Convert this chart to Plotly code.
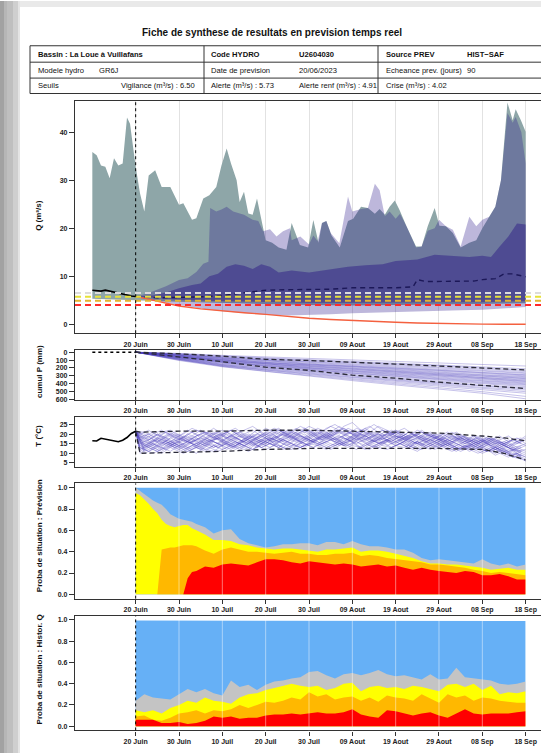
import plotly.graph_objects as go
from datetime import datetime, timedelta

W, H = 541, 756
T0 = datetime(2023, 6, 20)
FONT = "Liberation Sans, Arial, sans-serif"

# ---------------- data ----------------
TICK_DAYS = [0, 10, 20, 30, 40, 50, 60, 70, 80, 90]
TICK_LABELS = ["20 Juin", "30 Juin", "10 Juil", "20 Juil", "30 Juil",
               "09 Aout", "19 Aout", "29 Aout", "08 Sep", "18 Sep"]

SEUILS = {"vig": 6.50, "al": 5.73, "alr": 4.91, "cri": 4.02}

OBS_DAYS = [-10, -9, -8, -7, -6, -5, -4, -3, -2, -1, 0]
OBS_Q = [7.1, 7.0, 6.9, 7.1, 6.9, 6.6, 6.4, 6.2, 6.1, 5.9, 5.8]
OBS_T = [16.5, 16.4, 17.8, 17.3, 17.0, 16.3, 16.0, 16.8, 18.2, 20.3, 21.5]
OBS_P = [0, 0, 0, 0, 0, 0, 0, 0, 0, 0, 0]

HIST_MAX_DAYS = [-10, -9, -8, -7, -6, -5, -4, -3, -2, -1.3, 0, 1, 2, 3, 4.5, 6, 8, 10, 11, 13,
                 14, 15.6, 17, 18.6, 19.8, 21, 22, 23.3, 24, 25, 26, 27, 28, 29, 30, 31.5, 33, 34.8, 36, 37.9,
                 39.8, 41, 42.2, 43, 44, 45.2, 47.1, 49, 50.2, 52, 53.6, 55.2, 56.3, 57.5, 58.6, 59.8, 60.9, 62.5, 64.7, 66,
                 67.4, 69, 70.1, 71.6, 73.2, 75, 77, 78.6, 80, 81.6, 83, 84.3, 85.8, 87, 87.7, 88.9, 90]
HIST_MAX = [35.9, 35.2, 33.1, 32.8, 30.4, 34.6, 33.1, 33.5, 43.1, 41.8, 32.8, 27.3, 23.5, 31.0, 32.1, 28.6, 28.6, 24.9, 25.2, 21.8,
            22.1, 26.2, 26.9, 28.6, 33.1, 36.6, 33.5, 30.0, 25.5, 27.6, 23.1, 22.8, 26.2, 21.8, 17.5, 17.0, 16.0, 15.5, 21.1, 16.5,
            16.0, 21.7, 17.0, 21.1, 21.5, 18.5, 16.0, 21.5, 22.0, 24.5, 24.2, 23.0, 24.0, 22.8, 24.5, 25.8, 23.8, 20.4, 16.2, 16.2,
            20.4, 24.2, 20.5, 20.4, 19.0, 16.0, 17.0, 17.5, 20.0, 22.4, 24.5, 30.0, 46.2, 42.5, 44.8, 42.5, 40.1]
HIST_MIN_DAYS = [-10, -5, 0, 10, 20, 30, 40, 50, 60, 70, 80, 90]
HIST_MIN = [5.3, 5.1, 5.0, 4.7, 4.4, 4.2, 4.0, 3.9, 4.0, 4.1, 4.2, 4.4]

FC_MAX_DAYS = [0, 3, 7, 10, 12, 14, 15.6, 16.8, 17.2, 18.6, 19.8, 21, 22.5, 25, 27, 28.3, 29.4, 31, 32.5, 34,
               35.6, 36, 38, 40, 41, 42, 43, 44, 45, 47, 49, 50, 52, 53.6, 55.2, 56.3, 57.5, 58.6, 60, 61,
               62.5, 64.7, 66, 67.4, 69, 70, 71.6, 73.2, 75, 77, 78.6, 80, 81.6, 83, 84.3, 85.8, 87, 87.7, 89, 90]
FC_MAX = [5.8, 6.5, 7.9, 9.2, 9.6, 10.9, 12.6, 13.0, 24.2, 23.5, 23.9, 24.5, 23.5, 22.8, 21.8, 21.5, 19.4, 19.8, 18.3, 19.4,
          20.0, 17.5, 18.3, 16.6, 18.5, 17.3, 21.1, 21.5, 19.0, 16.9, 26.6, 23.5, 24.0, 24.2, 29.3, 27.9, 22.5, 23.5, 22.0, 23.0,
          20.4, 16.0, 16.2, 19.5, 20.0, 21.8, 20.4, 19.7, 16.2, 22.4, 20.4, 21.8, 22.4, 24.5, 30.0, 44.0, 42.0, 43.2, 40.0, 33.5]
FC_MIN_DAYS = [0, 5, 10, 15, 20, 25, 30, 35, 40, 45, 50, 55, 60, 65, 70, 75, 80, 85, 90]
FC_MIN = [5.8, 4.8, 4.0, 3.3, 2.7, 2.3, 2.0, 1.8, 1.9, 2.1, 2.3, 2.4, 2.5, 2.6, 2.8, 2.9, 3.0, 3.3, 3.6]

IN_HI_DAYS = [0, 4, 7, 10, 13, 15, 17, 19, 21, 23, 25, 27, 29, 31, 33, 36, 40, 45, 49, 53,
              57, 60, 65, 69, 73, 77, 80, 82, 84, 86, 88, 90]
IN_HI = [5.8, 6.0, 6.6, 7.5, 8.2, 8.5, 10.0, 10.5, 12.0, 12.5, 12.2, 11.5, 12.5, 12.0, 10.8, 11.2, 10.8, 11.5, 12.0, 12.3,
         12.5, 13.2, 13.5, 14.5, 14.2, 14.0, 14.3, 14.0, 16.2, 18.3, 21.0, 20.8]
IN_LO_DAYS = [0, 5, 10, 20, 30, 40, 50, 60, 70, 80, 90]
IN_LO = [5.8, 5.4, 5.1, 4.8, 4.6, 4.5, 4.5, 4.5, 4.6, 4.6, 4.8]

MED_DAYS = [0, 5, 10, 15, 20, 25, 30, 35, 40, 45, 50, 55, 60, 64, 65, 67, 70, 75, 78, 80, 83, 85, 87, 90]
MED = [5.8, 5.5, 5.6, 5.7, 6.0, 6.6, 7.1, 7.2, 7.2, 7.3, 7.6, 7.6, 7.6, 7.8, 9.3, 8.9, 8.9, 8.9, 9.0, 9.3, 9.5, 10.5, 10.5, 9.9]

NORAIN_DAYS = [0, 5, 10, 15, 20, 25, 30, 35, 40, 45, 50, 55, 60, 65, 70, 75, 80, 85, 90]
NORAIN = [5.8, 4.8, 3.8, 3.2, 2.75, 2.4, 2.07, 1.65, 1.24, 1.0, 0.76, 0.58, 0.41, 0.27, 0.14, 0.07, 0.02, 0.0, 0.0]

# cumulative precipitation members (every 10 days)
P_DAYS = [0, 10, 20, 30, 40, 50, 60, 70, 80, 90]
P_MEMBERS = [
    [0, 15, 40, 60, 80, 95, 115, 140, 160, 175],
    [0, 25, 45, 70, 95, 115, 140, 165, 190, 210],
    [0, 20, 55, 80, 100, 130, 150, 170, 200, 230],
    [0, 35, 60, 90, 115, 135, 160, 190, 215, 245],
    [0, 30, 70, 95, 120, 150, 175, 200, 230, 260],
    [0, 40, 75, 100, 130, 160, 190, 215, 240, 270],
    [0, 45, 85, 110, 140, 165, 195, 225, 255, 285],
    [0, 25, 70, 105, 150, 175, 200, 230, 260, 290],
    [0, 50, 90, 120, 150, 180, 210, 240, 270, 300],
    [0, 40, 95, 130, 160, 185, 220, 255, 285, 310],
    [0, 55, 100, 135, 160, 195, 230, 260, 290, 320],
    [0, 35, 80, 130, 170, 205, 240, 270, 300, 330],
    [0, 60, 105, 140, 175, 210, 245, 275, 305, 335],
    [0, 45, 110, 150, 180, 215, 250, 285, 320, 345],
    [0, 65, 115, 145, 185, 220, 255, 290, 325, 355],
    [0, 50, 95, 150, 195, 230, 265, 300, 335, 365],
    [0, 70, 120, 160, 195, 235, 270, 305, 340, 370],
    [0, 55, 125, 165, 200, 240, 280, 315, 350, 380],
    [0, 75, 130, 170, 210, 245, 290, 325, 360, 390],
    [0, 60, 120, 175, 220, 255, 295, 335, 370, 400],
    [0, 80, 140, 180, 215, 265, 305, 345, 380, 410],
    [0, 65, 135, 190, 230, 275, 315, 350, 390, 420],
    [0, 85, 150, 195, 240, 285, 325, 365, 400, 435],
    [0, 90, 160, 200, 245, 295, 340, 380, 420, 450],
    [0, 70, 155, 210, 255, 305, 350, 390, 430, 465],
    [0, 95, 170, 215, 265, 315, 360, 400, 445, 480],
    [0, 80, 165, 225, 275, 325, 370, 415, 460, 500],
    [0, 100, 175, 230, 285, 335, 385, 430, 475, 520],
    [0, 90, 180, 240, 295, 350, 400, 450, 500, 560],
    [0, 105, 185, 245, 305, 360, 415, 465, 520, 590],
]
PQ_DAYS = [0, 10, 20, 30, 40, 50, 60, 70, 80, 90]
PQ_HI = [0, 20, 50, 90, 105, 125, 150, 175, 200, 225]
PQ_LO = [0, 60, 120, 190, 230, 290, 330, 380, 420, 460]

# temperature members, set A sampled on even days (0, 2, ..., 90)
T_DAYS_A = [0, 2, 4, 6, 8, 10, 12, 14, 16, 18, 20, 22, 24, 26, 28, 30, 32, 34, 36, 38, 40, 42, 44,
            46, 48, 50, 52, 54, 56, 58, 60, 62, 64, 66, 68, 70, 72, 74, 76, 78, 80, 82, 84, 86, 88, 90]
T_MEMBERS_A = [
    [21.5, 14, 12, 15, 18, 20, 17, 13, 11, 14, 17, 19, 21, 18, 16, 14, 17, 20, 22, 19, 17, 15, 18, 21, 23, 20, 17, 15, 18, 20, 22, 19, 16, 14, 17, 19, 16, 13, 12, 15, 17, 14, 12, 10, 13, 11],
    [21.5, 19, 21, 18, 15, 13, 16, 19, 21, 20, 17, 14, 12, 15, 18, 21, 19, 16, 18, 21, 24, 22, 19, 16, 14, 17, 20, 18, 15, 17, 21, 23, 20, 18, 15, 13, 16, 18, 15, 17, 14, 12, 15, 13, 9, 7],
    [21.5, 11, 13, 16, 14, 12, 15, 18, 16, 13, 15, 18, 20, 17, 14, 16, 19, 17, 15, 13, 16, 19, 21, 18, 16, 19, 22, 20, 17, 14, 16, 18, 21, 19, 16, 14, 17, 15, 13, 16, 18, 16, 13, 15, 12, 14],
    [21.5, 16, 18, 21, 22, 19, 16, 14, 17, 20, 22, 20, 17, 15, 18, 21, 23, 21, 18, 20, 22, 19, 17, 20, 24, 26, 22, 19, 17, 20, 18, 16, 19, 21, 18, 16, 14, 17, 19, 16, 14, 17, 15, 13, 16, 18],
    [21.5, 10, 12, 10, 13, 15, 12, 10, 13, 16, 14, 12, 15, 17, 14, 12, 14, 17, 15, 13, 15, 18, 16, 14, 16, 19, 17, 14, 13, 16, 18, 15, 13, 15, 17, 15, 12, 14, 16, 13, 11, 13, 11, 9, 8, 6],
    [21.5, 20, 17, 14, 16, 19, 22, 20, 18, 21, 19, 16, 18, 20, 17, 15, 19, 22, 20, 17, 19, 21, 18, 20, 23, 21, 18, 21, 24, 22, 19, 17, 20, 18, 16, 19, 21, 18, 16, 18, 15, 17, 19, 16, 18, 15],
    [21.5, 13, 16, 19, 17, 14, 12, 14, 17, 19, 16, 13, 15, 18, 20, 18, 15, 13, 16, 19, 17, 14, 16, 18, 15, 17, 20, 18, 15, 17, 19, 17, 14, 16, 19, 20, 17, 15, 13, 15, 13, 16, 14, 11, 12, 10],
    [21.5, 18, 15, 12, 14, 17, 20, 18, 15, 13, 16, 19, 17, 14, 17, 20, 18, 16, 14, 17, 20, 23, 21, 18, 15, 18, 21, 19, 16, 19, 21, 18, 15, 18, 20, 17, 19, 21, 18, 15, 17, 14, 16, 13, 11, 9],
    [21.5, 12, 15, 13, 11, 14, 16, 15, 12, 11, 14, 16, 14, 12, 15, 17, 16, 13, 12, 15, 17, 15, 13, 15, 18, 16, 13, 12, 15, 17, 14, 13, 16, 14, 12, 15, 13, 11, 14, 12, 10, 12, 10, 8, 10, 8],
    [21.5, 17, 20, 22, 19, 17, 20, 22, 21, 18, 20, 22, 19, 17, 20, 23, 21, 19, 21, 24, 22, 20, 23, 25, 22, 20, 22, 24, 21, 19, 22, 20, 18, 21, 19, 17, 20, 18, 16, 19, 17, 15, 17, 19, 16, 14],
    [21.5, 15, 13, 11, 14, 16, 13, 15, 18, 16, 14, 17, 15, 13, 16, 18, 15, 17, 19, 16, 14, 17, 19, 17, 14, 15, 18, 16, 14, 17, 15, 18, 20, 17, 15, 17, 14, 16, 18, 15, 13, 15, 12, 14, 11, 12],
    [21.5, 19, 16, 18, 21, 18, 15, 17, 20, 23, 20, 17, 19, 16, 13, 15, 18, 21, 19, 16, 19, 22, 20, 17, 19, 21, 19, 16, 19, 22, 20, 17, 15, 17, 20, 18, 15, 17, 15, 17, 19, 17, 14, 16, 13, 15],
    [21.5, 14, 17, 15, 18, 16, 14, 17, 15, 18, 21, 18, 16, 19, 17, 15, 18, 20, 17, 15, 17, 20, 18, 16, 18, 16, 19, 21, 18, 16, 14, 16, 19, 17, 14, 16, 19, 17, 14, 13, 16, 14, 12, 13, 10, 8],
    [21.5, 21, 19, 17, 15, 18, 16, 19, 21, 19, 16, 14, 16, 19, 22, 19, 17, 20, 18, 16, 18, 21, 19, 22, 20, 18, 16, 18, 20, 18, 21, 19, 17, 19, 21, 18, 16, 19, 17, 14, 16, 18, 15, 17, 15, 17],
    [21.5, 12, 10, 12, 15, 13, 11, 13, 12, 14, 12, 14, 13, 11, 13, 16, 14, 12, 14, 13, 15, 14, 12, 14, 16, 14, 13, 15, 13, 12, 14, 16, 13, 12, 14, 13, 15, 12, 14, 12, 13, 11, 13, 10, 9, 6],
    [21.5, 17, 14, 17, 20, 17, 19, 16, 14, 17, 19, 22, 19, 17, 15, 18, 16, 18, 21, 18, 16, 18, 20, 17, 19, 22, 20, 18, 20, 17, 19, 17, 19, 22, 19, 17, 18, 20, 17, 19, 16, 18, 16, 14, 16, 19],
]
# temperature members, set B sampled on odd days (after the start value at day 0)
T_DAYS_B = [0, 1, 3, 5, 7, 9, 11, 13, 15, 17, 19, 21, 23, 25, 27, 29, 31, 33, 35, 37, 39, 41, 43,
            45, 47, 49, 51, 53, 55, 57, 59, 61, 63, 65, 67, 69, 71, 73, 75, 77, 79, 81, 83, 85, 87, 89]
T_MEMBERS_B = [
    [21.5, 12, 15, 18, 16, 13, 15, 18, 20, 17, 15, 18, 16, 14, 17, 19, 21, 18, 16, 19, 22, 20, 17, 19, 21, 18, 20, 23, 20, 18, 16, 19, 17, 15, 18, 16, 14, 16, 18, 15, 13, 16, 14, 12, 10, 9],
    [21.5, 18, 20, 17, 14, 16, 19, 17, 14, 16, 19, 21, 18, 20, 22, 19, 17, 19, 22, 20, 18, 16, 19, 21, 24, 21, 19, 22, 25, 22, 20, 18, 21, 19, 17, 20, 18, 16, 19, 17, 15, 18, 16, 14, 17, 15],
    [21.5, 10, 13, 11, 14, 12, 10, 12, 15, 13, 11, 13, 16, 14, 12, 15, 13, 16, 14, 12, 14, 17, 15, 13, 15, 14, 12, 15, 17, 14, 13, 15, 13, 11, 14, 16, 13, 11, 13, 12, 10, 12, 9, 11, 8, 7],
    [21.5, 16, 13, 16, 19, 21, 18, 16, 18, 21, 19, 16, 14, 17, 20, 18, 21, 23, 20, 18, 20, 17, 19, 22, 20, 23, 21, 18, 16, 19, 21, 19, 16, 18, 21, 19, 17, 15, 18, 16, 18, 15, 17, 14, 12, 13],
    [21.5, 14, 16, 14, 12, 15, 17, 15, 13, 16, 18, 15, 13, 15, 17, 15, 18, 16, 14, 17, 15, 13, 16, 18, 16, 14, 17, 19, 16, 15, 17, 15, 18, 16, 13, 15, 17, 14, 12, 14, 13, 15, 12, 11, 13, 10],
    [21.5, 20, 22, 19, 21, 18, 20, 23, 21, 19, 21, 18, 20, 22, 24, 21, 19, 22, 20, 23, 21, 19, 21, 24, 22, 20, 23, 21, 19, 22, 20, 21, 19, 22, 20, 18, 20, 17, 19, 18, 16, 18, 17, 15, 17, 18],
    [21.5, 13, 11, 14, 17, 15, 12, 14, 16, 19, 17, 14, 16, 14, 12, 15, 18, 16, 19, 17, 14, 16, 19, 17, 15, 13, 16, 14, 17, 20, 17, 15, 13, 16, 14, 17, 15, 13, 15, 12, 14, 11, 13, 10, 12, 8],
    [21.5, 17, 19, 16, 18, 20, 17, 19, 22, 19, 17, 20, 18, 16, 19, 17, 20, 22, 19, 21, 18, 16, 18, 20, 18, 21, 19, 17, 20, 22, 19, 17, 19, 17, 20, 18, 16, 18, 20, 17, 15, 17, 15, 16, 14, 16],
    [21.5, 11, 14, 17, 15, 17, 14, 12, 14, 17, 15, 12, 14, 17, 15, 13, 15, 13, 16, 18, 15, 13, 15, 17, 14, 16, 18, 15, 13, 15, 18, 16, 14, 12, 15, 13, 15, 13, 11, 13, 15, 12, 10, 12, 9, 7],
    [21.5, 19, 17, 20, 18, 15, 18, 21, 18, 16, 18, 21, 23, 20, 18, 16, 19, 21, 18, 20, 22, 19, 17, 20, 22, 19, 17, 19, 21, 19, 22, 20, 18, 20, 18, 16, 19, 21, 18, 16, 19, 16, 18, 15, 17, 16],
    [21.5, 15, 17, 20, 17, 15, 13, 16, 18, 16, 13, 16, 18, 16, 19, 17, 15, 17, 20, 17, 19, 17, 15, 17, 19, 17, 15, 18, 16, 18, 16, 19, 17, 15, 17, 19, 16, 14, 16, 14, 16, 14, 12, 14, 12, 11],
    [21.5, 13, 15, 13, 16, 14, 17, 15, 13, 15, 18, 16, 14, 16, 14, 17, 15, 13, 16, 14, 17, 19, 16, 14, 16, 18, 16, 13, 16, 18, 15, 17, 15, 13, 16, 14, 16, 14, 12, 15, 13, 11, 13, 11, 9, 11],
    [21.5, 17, 15, 18, 21, 19, 16, 18, 15, 17, 20, 18, 21, 19, 17, 20, 18, 16, 18, 21, 23, 20, 18, 21, 19, 17, 19, 22, 19, 17, 20, 18, 21, 18, 16, 18, 16, 19, 17, 15, 17, 15, 13, 15, 13, 14],
    [21.5, 12, 14, 12, 15, 13, 11, 14, 12, 15, 13, 15, 12, 14, 16, 13, 15, 14, 12, 15, 13, 16, 14, 12, 14, 17, 14, 12, 14, 16, 13, 15, 13, 16, 14, 12, 14, 12, 14, 11, 13, 11, 12, 10, 8, 9],
]
TQ_DAYS = [0, 1, 10, 20, 30, 40, 50, 60, 70, 80, 85, 90]
TQ_HI = [21.5, 21.0, 21.5, 21.5, 22.0, 22.0, 21.5, 21.0, 20.5, 19.0, 18.0, 16.5]
TQ_LO = [21.5, 10.0, 10.5, 11.0, 12.0, 12.5, 12.5, 12.5, 12.5, 12.0, 10.0, 6.5]

# probabilities of situation - forecast (cumulative tops)
PV_DAYS = [0, 1, 2, 3, 4, 5, 6, 7, 8, 9, 10, 11, 12, 13, 14, 16, 18, 20, 22, 24, 26, 28, 30, 32, 34, 36, 38, 40,
           42, 44, 46, 48, 50, 52, 54, 56, 58, 60, 62, 64, 66, 68, 70, 72, 74, 76, 78, 80, 82, 84, 86, 88, 90]
PV_BLUE = [1.0, 1.0, 1.0, 1.0, 1.0, 1.0, 1.0, 1.0, 1.0, 1.0, 1.0, 1.0, 1.0, 1.0, 1.0, 1.0, 1.0, 1.0, 1.0, 1.0, 1.0, 1.0,
           1.0, 1.0, 1.0, 1.0, 1.0, 1.0, 1.0, 1.0, 1.0, 1.0, 1.0, 1.0, 1.0, 1.0, 1.0, 1.0, 1.0, 1.0, 1.0, 1.0, 1.0, 1.0,
           1.0, 1.0, 1.0, 1.0, 1.0, 1.0, 1.0, 1.0, 1.0]
PV_GRAY = [1.0, 0.97, 0.94, 0.91, 0.88, 0.86, 0.84, 0.80, 0.75, 0.73, 0.71, 0.70, 0.69, 0.68, 0.66,
           0.63, 0.57, 0.60, 0.61, 0.52, 0.48, 0.46, 0.44, 0.45, 0.47, 0.47, 0.48, 0.48, 0.46, 0.49, 0.49, 0.47, 0.50,
           0.47, 0.45, 0.45, 0.44, 0.42, 0.42, 0.39, 0.34, 0.32, 0.33, 0.32, 0.31, 0.30, 0.29, 0.33, 0.29, 0.27, 0.29, 0.26, 0.28]
PV_YELLOW = [0.95, 0.93, 0.89, 0.85, 0.80, 0.76, 0.70, 0.66, 0.64, 0.63, 0.64, 0.65, 0.65, 0.62, 0.60,
             0.56, 0.51, 0.51, 0.50, 0.47, 0.46, 0.44, 0.43, 0.42, 0.43, 0.43, 0.42, 0.41, 0.40, 0.42, 0.42, 0.43, 0.44,
             0.40, 0.41, 0.41, 0.40, 0.38, 0.36, 0.34, 0.31, 0.29, 0.29, 0.28, 0.28, 0.27, 0.26, 0.25, 0.23, 0.24, 0.25, 0.23, 0.23]
PV_ORANGE = [0, 0, 0, 0, 0, 0, 0.42, 0.43, 0.44, 0.44, 0.45, 0.46, 0.46, 0.46, 0.45,
             0.41, 0.38, 0.42, 0.44, 0.42, 0.40, 0.40, 0.39, 0.38, 0.39, 0.40, 0.38, 0.38, 0.37, 0.37, 0.38, 0.38, 0.39,
             0.36, 0.37, 0.36, 0.34, 0.33, 0.32, 0.31, 0.30, 0.28, 0.28, 0.27, 0.26, 0.25, 0.23, 0.22, 0.20, 0.21, 0.20, 0.19, 0.18]
PV_RED = [0, 0, 0, 0, 0, 0, 0, 0, 0, 0, 0, 0, 0.15, 0.21, 0.22,
          0.26, 0.25, 0.28, 0.29, 0.28, 0.27, 0.30, 0.33, 0.33, 0.32, 0.30, 0.29, 0.31, 0.30, 0.29, 0.28, 0.29, 0.28,
          0.26, 0.27, 0.28, 0.26, 0.27, 0.25, 0.23, 0.25, 0.23, 0.22, 0.21, 0.20, 0.22, 0.21, 0.18, 0.18, 0.19, 0.17, 0.14, 0.14]

# probabilities of situation - historical Q (cumulative tops, every 2 days)
HQ_DAYS = [0, 2, 4, 6, 8, 10, 12, 14, 16, 18, 20, 22, 24, 26, 28, 30, 32, 34, 36, 38, 40, 42, 44,
           46, 48, 50, 52, 54, 56, 58, 60, 62, 64, 66, 68, 70, 72, 74, 76, 78, 80, 82, 84, 86, 88, 90]
HQ_BLUE = [0.995, 0.995, 0.99, 0.995, 0.995, 0.995, 0.99, 0.995, 0.995, 0.995, 0.995, 0.99, 0.995, 0.995, 0.995, 0.995,
           0.995, 0.99, 0.995, 0.995, 0.995, 0.99, 0.995, 0.995, 0.995, 0.99, 0.995, 0.995, 0.995, 0.995, 0.995, 0.99,
           0.995, 0.995, 0.995, 0.99, 0.995, 0.995, 0.995, 0.995, 0.99, 0.995, 0.995, 0.995, 0.995, 0.99]
HQ_GRAY = [0.24, 0.30, 0.27, 0.26, 0.25, 0.30, 0.35, 0.32, 0.35, 0.31, 0.29, 0.43, 0.37, 0.39, 0.34, 0.39, 0.42, 0.43,
           0.45, 0.46, 0.51, 0.52, 0.48, 0.45, 0.49, 0.50, 0.48, 0.50, 0.53, 0.49, 0.47, 0.48, 0.46, 0.44, 0.49, 0.44,
           0.45, 0.55, 0.46, 0.45, 0.44, 0.43, 0.40, 0.39, 0.40, 0.42]
HQ_YELLOW = [0.15, 0.13, 0.15, 0.12, 0.17, 0.20, 0.24, 0.22, 0.27, 0.24, 0.23, 0.21, 0.27, 0.30, 0.31, 0.34, 0.36, 0.38,
             0.40, 0.38, 0.37, 0.38, 0.34, 0.36, 0.40, 0.41, 0.33, 0.37, 0.38, 0.36, 0.37, 0.35, 0.38, 0.37, 0.35, 0.33,
             0.39, 0.40, 0.37, 0.40, 0.34, 0.38, 0.30, 0.32, 0.31, 0.33]
HQ_ORANGE = [0.09, 0.10, 0.06, 0.05, 0.08, 0.12, 0.13, 0.15, 0.12, 0.15, 0.14, 0.16, 0.20, 0.17, 0.20, 0.23, 0.22, 0.24,
             0.27, 0.25, 0.32, 0.28, 0.30, 0.25, 0.27, 0.28, 0.24, 0.27, 0.23, 0.29, 0.27, 0.26, 0.24, 0.30, 0.26, 0.22,
             0.30, 0.27, 0.29, 0.24, 0.27, 0.26, 0.24, 0.23, 0.22, 0.22]
HQ_RED = [0.06, 0.06, 0.06, 0.03, 0.03, 0.04, 0.02, 0.03, 0.05, 0.09, 0.08, 0.09, 0.07, 0.08, 0.08, 0.10, 0.11, 0.11,
          0.12, 0.11, 0.12, 0.13, 0.12, 0.12, 0.13, 0.16, 0.11, 0.09, 0.08, 0.15, 0.14, 0.12, 0.10, 0.12, 0.13, 0.10,
          0.08, 0.12, 0.16, 0.12, 0.11, 0.12, 0.12, 0.12, 0.13, 0.14]

# ---------------- helpers ----------------
def dt(k):
    return (T0 + timedelta(days=k)).strftime("%Y-%m-%d %H:%M:%S")


def dts(ks):
    return [dt(k) for k in ks]


def py(px):
    return 1 - px / H


X_RANGE = [dt(-14.0), dt(93.54)]
XL = 75 / W
PANELS = {  # top px, bottom px, y range
    1: (101, 334, [-1.87, 46.42]),
    2: (351, 401, [604, -26]),
    3: (418, 468, [3.1, 29.0]),
    4: (485, 600.8, [-0.04, 1.04]),
    5: (618, 733.3, [-0.04, 1.04]),
}

fig = go.Figure()


def ax(i):
    return ("x" if i == 1 else f"x{i}"), ("y" if i == 1 else f"y{i}")


def add(i, **kw):
    xa, ya = ax(i)
    kw.setdefault("mode", "lines")
    kw.setdefault("hoverinfo", "skip")
    kw.setdefault("showlegend", False)
    fig.add_trace(go.Scatter(xaxis=xa, yaxis=ya, **kw))


def band(i, d_hi, hi, d_lo, lo, color):
    add(i, x=dts(d_hi) + dts(d_lo[::-1]), y=hi + lo[::-1], fill="toself",
        fillcolor=color, line=dict(width=0))


# ---- panel 1: discharge ----
band(1, HIST_MAX_DAYS, HIST_MAX, HIST_MIN_DAYS, HIST_MIN, "#8ea6a8")
band(1, FC_MAX_DAYS, FC_MAX, FC_MIN_DAYS, FC_MIN, "rgba(36,15,135,0.30)")
band(1, IN_HI_DAYS, IN_HI, IN_LO_DAYS, IN_LO, "rgba(40,20,130,0.45)")
add(1, x=dts(NORAIN_DAYS), y=NORAIN, line=dict(color="#f4603f", width=1.4))
add(1, x=dts(MED_DAYS), y=MED, line=dict(color="#1c1858", width=1.4, dash="5px,4px"))
add(1, x=dts(OBS_DAYS), y=OBS_Q, line=dict(color="black", width=1.6))

# ---- panel 2: cumulative precipitation ----
ENS_LINE = dict(color="rgba(78,66,190,0.40)", width=0.8)
for m in P_MEMBERS:
    add(2, x=dts(P_DAYS), y=m, line=ENS_LINE)
add(2, x=dts(PQ_DAYS), y=PQ_HI, line=dict(color="#2b2b3a", width=1.3, dash="5px,3px"))
add(2, x=dts(PQ_DAYS), y=PQ_LO, line=dict(color="#2b2b3a", width=1.3, dash="5px,3px"))
add(2, x=dts(OBS_DAYS), y=OBS_P, line=dict(color="black", width=1.4, dash="dot"))

# ---- panel 3: temperature ----
for m in T_MEMBERS_A:
    add(3, x=dts(T_DAYS_A), y=m, line=ENS_LINE)
for m in T_MEMBERS_B:
    add(3, x=dts(T_DAYS_B), y=m, line=ENS_LINE)
add(3, x=dts(TQ_DAYS), y=TQ_HI, line=dict(color="#2b2b3a", width=1.3, dash="5px,3px"))
add(3, x=dts(TQ_DAYS), y=TQ_LO, line=dict(color="#2b2b3a", width=1.3, dash="5px,3px"))
add(3, x=dts(OBS_DAYS), y=OBS_T, line=dict(color="black", width=1.6))

# ---- panels 4 & 5: probabilities ----
BLUE, GRAY, YEL, ORA, RED = "#66b0f6", "#c4c4c4", "#ffff00", "#ffb800", "#ff0000"
for top, col in [(PV_BLUE, BLUE), (PV_GRAY, GRAY), (PV_YELLOW, YEL), (PV_ORANGE, ORA), (PV_RED, RED)]:
    add(4, x=dts(PV_DAYS), y=top, fill="tozeroy", fillcolor=col, line=dict(width=0))
for top, col in [(HQ_BLUE, BLUE), (HQ_GRAY, GRAY), (HQ_YELLOW, YEL), (HQ_ORANGE, ORA), (HQ_RED, RED)]:
    add(5, x=dts(HQ_DAYS), y=top, fill="tozeroy", fillcolor=col, line=dict(width=0))

# ---------------- axes ----------------
tickfont = dict(family=FONT, size=7, color="#222", weight="bold")
layout = {}
for i, (top, bot, yr) in PANELS.items():
    xa, ya = ax(i)
    xkey = "xaxis" if i == 1 else f"xaxis{i}"
    ykey = "yaxis" if i == 1 else f"yaxis{i}"
    layout[xkey] = dict(
        domain=[XL, 1], anchor=ya, type="date", range=X_RANGE,
        tickvals=dts(TICK_DAYS), ticktext=TICK_LABELS, tickfont=tickfont,
        ticks="outside", ticklen=4, tickcolor="#333", tickwidth=1,
        showline=True, linecolor="#333", linewidth=1.3, mirror=True,
        showgrid=(i <= 3), gridcolor="#e2e2e2", gridwidth=1, zeroline=False,
        fixedrange=True,
    )
    yd = dict(domain=[py(bot), py(top)], anchor=xa, range=yr, tickfont=tickfont,
              ticks="outside", ticklen=5, tickcolor="#333", tickwidth=1,
              showline=True, linecolor="#333", linewidth=1.3, showgrid=False,
              zeroline=False, fixedrange=True)
    if i == 1:
        yd["tickvals"] = [0, 10, 20, 30, 40]
    elif i == 2:
        yd["tickvals"] = [0, 100, 200, 300, 400, 500, 600]
    elif i == 3:
        yd["tickvals"] = [5, 10, 15, 20, 25]
    else:
        yd["tickvals"] = [0, 0.2, 0.4, 0.6, 0.8, 1.0]
        yd["tickformat"] = ".1f"
    layout[ykey] = yd

# ---------------- shapes ----------------
shapes = []
# page frame (viewer shadow)
for x0, x1, c in [(0, 4, "#a2a2a2"), (4, 7, "#b6b6b6"), (7, 13, "#bfbfbf"), (13, 18, "#cfcfcf"), (18, 20, "#e4e4e4")]:
    shapes.append(dict(type="rect", xref="paper", yref="paper", x0=x0 / W, x1=x1 / W, y0=0, y1=1,
                       fillcolor=c, line=dict(width=0), layer="below"))
shapes.append(dict(type="rect", xref="paper", yref="paper", x0=20 / W, x1=1, y0=py(6), y1=1,
                   fillcolor="#e9e9e9", line=dict(width=0), layer="below"))

# table
for yy in [45, 61.5, 77.5, 93]:
    shapes.append(dict(type="line", xref="paper", yref="paper", x0=30 / W, x1=1, y0=py(yy), y1=py(yy),
                       line=dict(color="#333", width=1)))
for xx in [30, 204, 378]:
    shapes.append(dict(type="line", xref="paper", yref="paper", x0=xx / W, x1=xx / W, y0=py(45), y1=py(93),
                       line=dict(color="#333", width=1)))

# thresholds
for val, col in [(SEUILS["vig"], "#dcdcdc"), (SEUILS["al"], "#e6e23a"), (SEUILS["alr"], "#e3b531"), (SEUILS["cri"], "#ff2a2a")]:
    shapes.append(dict(type="line", xref="x domain", yref="y", x0=0, x1=1, y0=val, y1=val,
                       line=dict(color=col, width=2, dash="6px,4px"), layer="above"))

# forecast date dotted line + grid overlays on probability panels
for i in PANELS:
    xa, ya = ax(i)
    shapes.append(dict(type="line", xref=xa, yref=f"{ya} domain", x0=dt(0), x1=dt(0), y0=0, y1=1,
                       line=dict(color="black", width=1, dash="dot"), layer="above"))
    if i >= 4:
        for k in TICK_DAYS[1:]:
            shapes.append(dict(type="line", xref=xa, yref=f"{ya} domain", x0=dt(k), x1=dt(k), y0=0, y1=1,
                               line=dict(color="rgba(255,255,255,0.45)", width=1), layer="above"))

# ---------------- annotations ----------------
ann = []


def text(xp, yp, s, size=7.6, bold=False, anchor="left", angle=0):
    ann.append(dict(xref="paper", yref="paper", x=xp / W, y=py(yp), text=(f"<b>{s}</b>" if bold else s),
                    showarrow=False, xanchor=anchor, yanchor="middle", textangle=angle,
                    font=dict(family=FONT, size=size, color="#111")))


text(271.5, 32, "Fiche de synthese de resultats en prevision temps reel", size=10, bold=True, anchor="center")

ROW_Y = [53.5, 69.5, 85.3]
text(36, ROW_Y[0], "Bassin : La Loue à Vuillafans", bold=True)
text(209, ROW_Y[0], "Code HYDRO", bold=True)
text(297, ROW_Y[0], "U2604030", bold=True)
text(384, ROW_Y[0], "Source PREV", bold=True)
text(465, ROW_Y[0], "HIST−SAF", bold=True)
text(36, ROW_Y[1], "Modele hydro")
text(97, ROW_Y[1], "GR6J")
text(209, ROW_Y[1], "Date de prevision")
text(297, ROW_Y[1], "20/06/2023")
text(384, ROW_Y[1], "Echeance prev. (jours)")
text(465, ROW_Y[1], "90")
text(36, ROW_Y[2], "Seuils")
text(197, ROW_Y[2], "Vigilance (m³/s) : 6.50", anchor="right")
text(209, ROW_Y[2], "Alerte (m³/s) : 5.73")
text(297, ROW_Y[2], "Alerte renf (m³/s) : 4.91")
text(384, ROW_Y[2], "Crise (m³/s) : 4.02")

for yc, s in [(216, "Q (m³/s)"), (373, "cumul P (mm)"), (437, "T (°C)"),
              (538, "Proba de situation : Prévision"), (672, "Proba de situation : Histor. Q")]:
    text(39, yc, s, size=8, bold=True, anchor="center", angle=-90)

fig.update_layout(
    width=W, height=H, margin=dict(l=0, r=0, t=0, b=0),
    paper_bgcolor="white", plot_bgcolor="white", showlegend=False,
    shapes=shapes, annotations=ann, font=dict(family=FONT), **layout,
)

fig.write_html("out.html", include_plotlyjs=True, config={"displayModeBar": False})
